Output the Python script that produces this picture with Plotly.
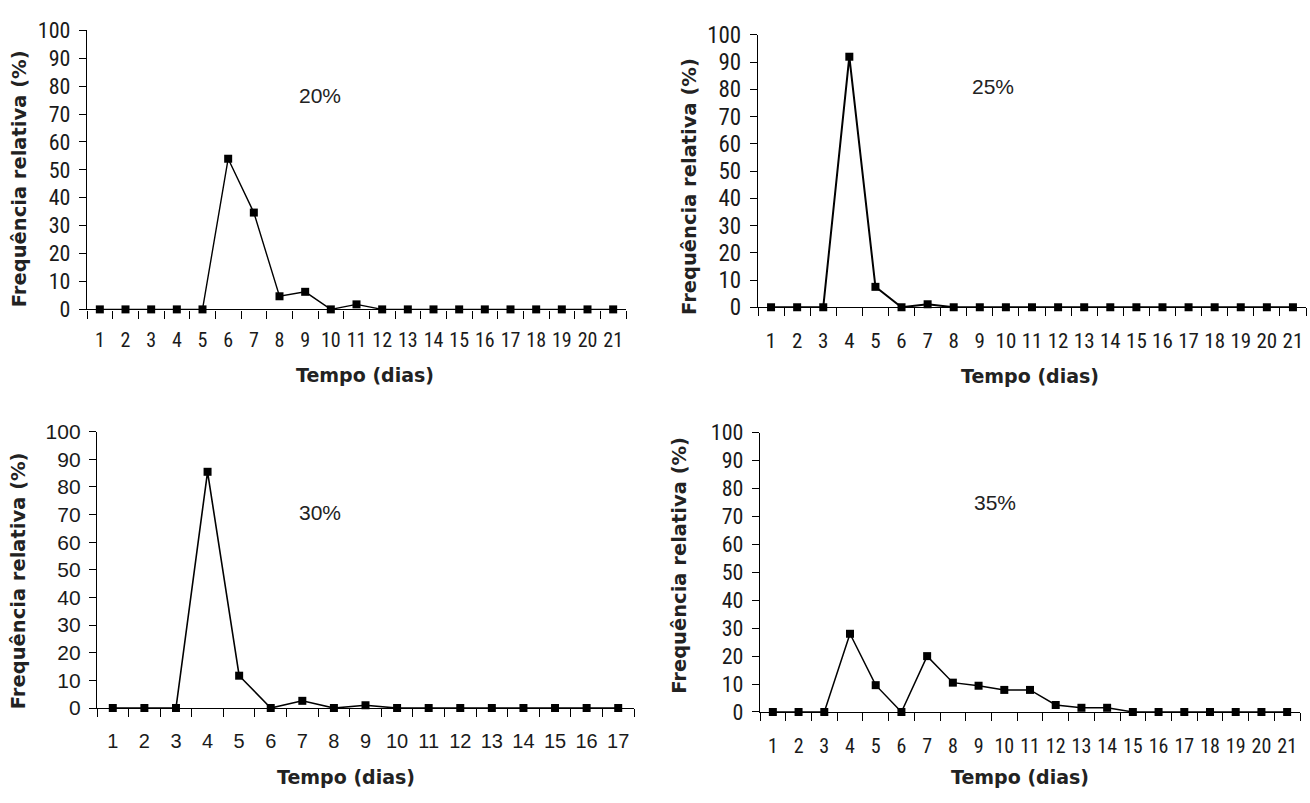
import plotly.graph_objects as go

W, H = 1310, 803

# ---------------- data ----------------
days_21 = ["1", "2", "3", "4", "5", "6", "7", "8", "9", "10", "11",
           "12", "13", "14", "15", "16", "17", "18", "19", "20", "21"]
days_17 = ["1", "2", "3", "4", "5", "6", "7", "8", "9", "10", "11",
           "12", "13", "14", "15", "16", "17"]

freq_20 = [0, 0, 0, 0, 0, 54, 34.7, 4.7, 6.3, 0, 1.8, 0, 0, 0, 0, 0, 0, 0, 0, 0, 0]
freq_25 = [0, 0, 0, 92, 7.5, 0, 1.1, 0, 0, 0, 0, 0, 0, 0, 0, 0, 0, 0, 0, 0, 0]
freq_30 = [0, 0, 0, 85.5, 11.7, 0, 2.6, 0, 1.0, 0, 0, 0, 0, 0, 0, 0, 0]
freq_35 = [0, 0, 0, 28, 9.6, 0, 20, 10.5, 9.4, 7.9, 7.9, 2.5, 1.5, 1.5, 0, 0, 0, 0, 0, 0, 0]

panel_labels = ["20%", "25%", "30%", "35%"]
y_tickvals = [0, 10, 20, 30, 40, 50, 60, 70, 80, 90, 100]
x_title = "Tempo (dias)"
y_title = "Frequência relativa (%)"

# ---------------- layout geometry (pixels) ----------------
NARROW = "Liberation Sans Narrow, Arial Narrow, Roboto Condensed, Liberation Sans, Arial, sans-serif"
REGULAR = "Liberation Sans, Arial, sans-serif"
BOLD = "DejaVu Sans, Verdana, sans-serif"

panels = [
    dict(days=days_21, vals=freq_20, x0=87, x1=626, top=18, bot=306.7,
         ytitle=(19, 172), xtitle=(365, 375), lab=(320, 85),
         yfont=dict(family=NARROW, size=22), xfont=dict(family=NARROW, size=20),
         lw=1.4, xstand=12),
    dict(days=days_21, vals=freq_25, x0=758, x1=1306, top=22.7, bot=304.5,
         ytitle=(690, 180), xtitle=(1030, 376), lab=(993, 76),
         yfont=dict(family=NARROW, size=23), xfont=dict(family=NARROW, size=21),
         lw=2.0, xstand=14),
    dict(days=days_17, vals=freq_30, x0=97, x1=634, top=433.3, bot=719.2,
         ytitle=(18, 588), xtitle=(346, 791), lab=(320, 517),
         yfont=dict(family=REGULAR, size=21), xfont=dict(family=REGULAR, size=20),
         lw=1.6, xstand=15),
    dict(days=days_21, vals=freq_35, x0=760, x1=1300, top=434.3, bot=723.3,
         ytitle=(680, 572), xtitle=(1020, 791), lab=(995, 507),
         yfont=dict(family=NARROW, size=22), xfont=dict(family=NARROW, size=20),
         lw=1.5, xstand=16),
]

fig = go.Figure()
annotations = []

for i, p in enumerate(panels, start=1):
    xa = "x" if i == 1 else f"x{i}"
    ya = "y" if i == 1 else f"y{i}"
    fig.add_trace(go.Scatter(
        x=p["days"], y=p["vals"], xaxis=xa, yaxis=ya,
        mode="lines+markers",
        line=dict(color="black", width=p["lw"]),
        marker=dict(symbol="square", size=8, color="black"),
        cliponaxis=False, showlegend=False, hoverinfo="x+y",
    ))
    n = len(p["days"])
    xkey = "xaxis" if i == 1 else f"xaxis{i}"
    ykey = "yaxis" if i == 1 else f"yaxis{i}"
    fig.layout[xkey] = dict(
        domain=[p["x0"] / W, p["x1"] / W], anchor=ya,
        type="category", range=[-0.5, n - 0.5], tickangle=0,
        tickson="boundaries", ticks="outside", ticklen=8, tickwidth=1.4,
        tickcolor="black", showline=True, linecolor="black", linewidth=1.4,
        showgrid=False, zeroline=False, tickfont=dict(color="#1a1a1a", **p["xfont"]),
        ticklabelstandoff=p["xstand"], fixedrange=True,
    )
    fig.layout[ykey] = dict(
        domain=[1 - p["bot"] / H, 1 - p["top"] / H], anchor=xa,
        range=[0, 100], tickvals=y_tickvals, ticks="outside", ticklen=7,
        tickwidth=1.4, tickcolor="black", showline=True, linecolor="black",
        linewidth=1.4, showgrid=False, zeroline=False,
        tickfont=dict(color="#1a1a1a", **p["yfont"]), ticklabelstandoff=4,
        fixedrange=True,
    )
    annotations.append(dict(
        text=y_title, x=p["ytitle"][0] / W, y=1 - p["ytitle"][1] / H,
        xref="paper", yref="paper", textangle=-90, showarrow=False,
        xanchor="center", yanchor="middle",
        font=dict(family=BOLD, size=19.5, color="#222222", weight="bold"),
    ))
    annotations.append(dict(
        text=x_title, x=p["xtitle"][0] / W, y=1 - p["xtitle"][1] / H,
        xref="paper", yref="paper", showarrow=False,
        xanchor="center", yanchor="middle",
        font=dict(family=BOLD, size=19, color="#222222", weight="bold"),
    ))
    annotations.append(dict(
        text=panel_labels[i - 1], x=p["lab"][0] / W, y=1 - p["lab"][1] / H,
        xref="paper", yref="paper", showarrow=False,
        xanchor="center", yanchor="middle",
        font=dict(family=REGULAR, size=21, color="#222222"),
    ))

fig.update_layout(
    width=W, height=H, margin=dict(l=0, r=0, t=0, b=0),
    paper_bgcolor="white", plot_bgcolor="white",
    annotations=annotations,
)

fig.write_html("out.html", config={"displayModeBar": False},
               post_script="document.body.style.margin='0';")
